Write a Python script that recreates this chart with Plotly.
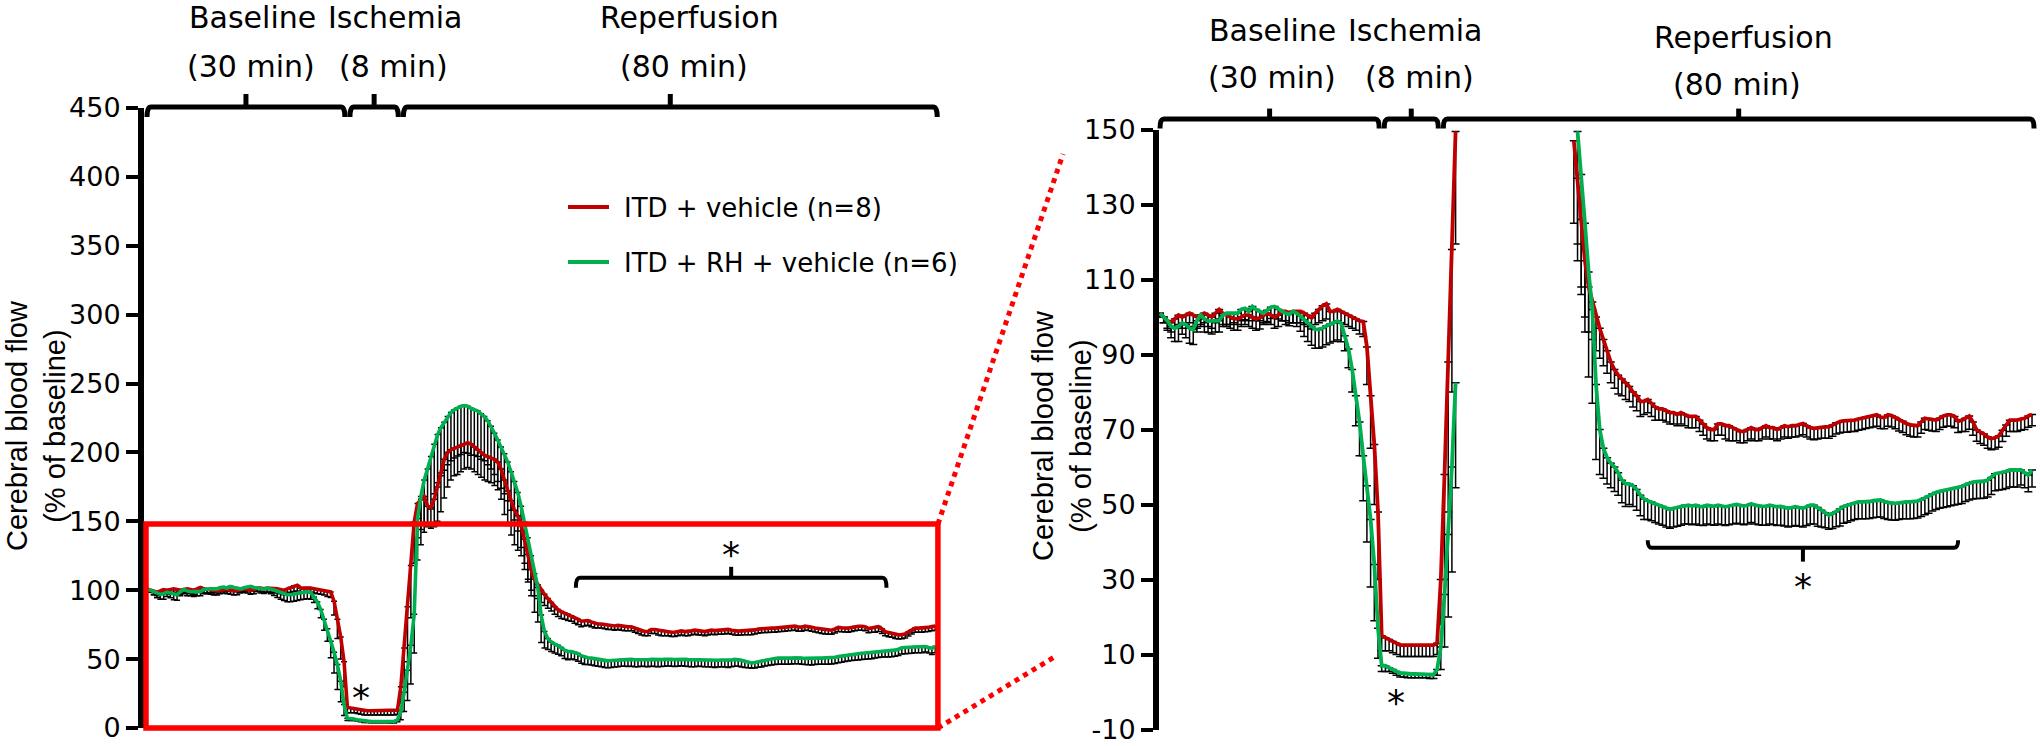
import numpy as np
import plotly.graph_objects as go

# ---------------------------------------------------------------- data
TIME_MIN = np.arange(0, 118.01, 0.5)   # sampling every 30 s, 0..118 min

RED_MEAN = [
    101, 100, 99, 98.5, 99.5, 100.5, 100, 100.5, 101, 100.5,
    100, 100.5, 101, 100.5, 100, 101, 102, 101, 100.5, 100,
    99.5, 99.5, 100, 100.5, 100.5, 100, 99.5, 99.8, 100.5, 101,
    100.5, 100, 100.5, 101.5, 101.5, 101, 101.5, 101.5, 101.5, 101,
    100.5, 99.8, 101, 102, 103, 103.5, 101.5, 101.5, 102, 101.5,
    101, 100.5, 100, 99.5, 99, 98.8, 92, 79, 66, 48,
    15, 14.5, 14, 13.5, 13, 12.5, 12.5, 12.5, 12.5, 12.5,
    12.5, 12.5, 12.5, 12.5, 12.5, 13, 30, 58, 88, 118,
    149.5, 163, 166, 168, 161, 160, 166, 175, 185, 195,
    200, 202, 203, 204, 205, 206, 207, 206, 204, 202,
    200, 198, 197, 196, 195, 193, 188, 180, 172, 165,
    158, 154, 147, 137, 126, 115, 108, 104, 100, 97,
    94, 91, 88, 86, 84.5, 83.5, 82.5, 81.5, 80, 79,
    77.5, 77.5, 78, 77, 76, 75.5, 75.5, 75, 74.5, 74.5,
    74, 74.5, 74, 73.5, 73.5, 73.5, 72.5, 71.5, 70.5, 70,
    70, 71.5, 71.5, 71, 71, 70.5, 70, 69.5, 69.5, 70,
    70.5, 70, 70, 70.5, 71, 70.5, 70.5, 70, 70.5, 71,
    70.7, 71, 71, 71.3, 71.6, 71, 70.5, 70.3, 70.5, 70.7,
    70.7, 70.7, 71.2, 71.8, 72.1, 72.3, 72.3, 72.5, 72.5, 72.8,
    73, 73.3, 73.5, 73.7, 73.9, 73.3, 73.2, 73.9, 73.7, 73.2,
    72.6, 72.2, 71.6, 71.2, 71, 71, 72, 73, 72.8, 72.6,
    72.5, 73, 73.6, 73.9, 73.9, 73.5, 72.2, 72.5, 73, 73.6,
    72, 69.9, 69.3, 68.8, 68, 67.6, 67.8, 68.3, 69.8, 71.2,
    72.5, 72.5, 72.5, 72.8, 73, 73.6, 74,
]
RED_SEM = [
    1, 1.5, 2, 2.5, 2, 2.5, 3, 2.5, 2.5, 3,
    3, 2.5, 2.5, 3, 3, 2.5, 2.5, 3, 3, 3,
    3, 3, 2.5, 2.5, 3, 3, 3, 3, 2.5, 2.5,
    2.5, 3, 3, 2.5, 2.5, 2.5, 3, 3, 3, 3,
    3, 3, 3, 3.5, 4, 4, 3.5, 3, 3, 3,
    3, 3, 3, 3, 3.5, 4, 10, 14, 16, 18,
    4, 3.5, 3, 3, 3, 3, 3, 3, 3, 3,
    3, 3, 3, 3, 3, 3, 12, 28, 40, 38,
    30, 25, 22, 20, 15, 15, 20, 25, 28, 28,
    25, 22, 20, 20, 19, 18, 18, 18, 18, 18,
    18, 18, 18, 18, 19, 20, 22, 25, 25, 25,
    25, 25, 22, 22, 20, 15, 12, 10, 9, 8,
    7, 6, 5.5, 5, 5, 4.5, 4.5, 4, 4, 4,
    4, 3.5, 3.5, 3.5, 3.5, 3, 3, 3, 3, 3,
    3, 3, 3, 3, 3, 3, 3, 3, 3, 3,
    3, 3, 3, 3.5, 4, 3.5, 3, 3, 3, 3,
    3, 3, 3, 3, 3, 3, 3, 3, 3, 3,
    3, 3, 3, 3, 3, 3, 3, 3, 3, 3,
    3, 3, 3, 3, 3, 3, 3, 3, 3, 3,
    3, 3, 3, 3, 3, 3, 3, 3, 3, 3,
    3, 3, 3, 3, 3, 3, 3, 3, 3, 3,
    3, 3, 3, 3, 3, 3, 3, 3, 3.5, 3.5,
    3.5, 3, 3, 3, 3, 3, 3, 3, 3, 3,
    3, 3, 3, 3, 3, 3, 3,
]
GREEN_MEAN = [
    101, 100, 99, 97.5, 97, 97.5, 98.4, 98, 97, 96.7,
    99, 100.5, 99.5, 98.9, 99, 99, 99, 100.5, 101, 101,
    101, 101, 102, 102.3, 101.5, 102.8, 102, 101.5, 101, 101.8,
    102.6, 102.8, 102, 101.5, 101, 100.7, 101.5, 101, 100.2, 99.3,
    98.5, 97.5, 96.7, 96.7, 97, 97.6, 98.1, 98.5, 98.9, 98.4,
    95, 91.5, 86, 79, 72, 63, 55, 46, 34, 17,
    7, 7, 6.5, 6, 5.5, 5, 5, 4.8, 4.8, 4.8,
    4.8, 4.8, 4.8, 4.6, 4.6, 6, 12, 26, 42, 60,
    82.5, 152, 168, 180, 188, 197, 206, 213, 218, 222,
    226, 229, 231, 232.5, 233.5, 234, 233.5, 232, 231, 230,
    228, 226, 223, 219, 214, 209, 204, 199, 193, 186,
    179, 171, 161, 149.5, 138, 125, 112, 102, 82, 70,
    65, 62.5, 61, 60, 58.5, 56.5, 55.5, 55.5, 55, 54,
    52.5, 51.5, 51, 50.7, 50.2, 49.8, 49.5, 49, 48.7, 49,
    49.2, 49.5, 49.8, 49.8, 49.6, 49.8, 49.5, 49.4, 49.8, 49.6,
    49.5, 49.8, 49.6, 49.4, 49.6, 49.8, 50, 49.8, 49.6, 49.8,
    50.2, 49.8, 49.6, 49.5, 49.5, 49.8, 49.6, 49.4, 49.5, 49.3,
    49, 49.2, 49.4, 49.2, 49, 49.4, 49.8, 49.8, 49.2, 48.5,
    47.8, 47.2, 47.6, 48.1, 48.8, 49.5, 49.8, 50.2, 50.5, 50.7,
    50.7, 50.7, 50.8, 51, 51.1, 51.2, 50.8, 50.5, 50.4, 50.3,
    50.5, 50.7, 50.7, 50.7, 50.8, 50.9, 51.3, 51.8, 52.2, 52.8,
    53.2, 53.5, 53.7, 53.9, 54.2, 54.4, 54.6, 54.8, 55.3, 55.7,
    56, 56.1, 56.1, 56.2, 56.5, 57.2, 58.2, 58.4, 58.5, 58.8,
    59.2, 59.2, 59.2, 59.2, 58.5, 57.9, 59.2,
]
GREEN_SEM = [
    1, 1.5, 2.5, 3, 3.5, 4, 3, 3.5, 4, 4,
    3, 3, 3.5, 3, 3.5, 3, 3, 3, 3, 3,
    2.5, 3, 3, 3, 2.5, 3, 3, 2.5, 2.5, 3,
    3, 3, 2.5, 2.5, 3, 3, 3, 3.5, 4, 4.5,
    5, 5, 5, 5, 5, 5, 5, 5, 5, 5,
    4, 5, 6, 8, 9, 12, 15, 18, 15, 8,
    1.5, 1.5, 1, 1, 1, 1, 1, 1, 1, 1,
    1, 1, 1, 1, 1, 1.5, 6, 14, 22, 28,
    28, 30, 35, 38, 40, 38, 36, 35, 35, 35,
    35, 35, 35, 35, 35, 34, 34, 34, 33, 33,
    33, 32, 32, 31, 30, 30, 30, 29, 28, 28,
    28, 28, 30, 30, 30, 29, 28, 25, 20, 12,
    8, 7, 6.5, 6.5, 6, 6, 6, 5.5, 5.5, 5.5,
    5.5, 5.5, 5, 5, 5, 5, 5, 5, 5, 5,
    5, 5, 5, 5, 5, 5, 5, 5, 5, 5,
    5, 5, 5, 5, 5, 5, 5, 5, 5, 5,
    5, 5, 5, 5, 5, 5, 5, 5, 5, 5,
    5, 5, 5, 5, 5, 5, 5, 5, 5, 4.5,
    4, 3.8, 4, 4, 4.5, 4.5, 4.5, 4.5, 4.5, 4.5,
    4.5, 4.5, 4.5, 4.5, 4.5, 4.5, 4.5, 4.5, 4.5, 4.5,
    4.5, 4.5, 4.5, 4.5, 4.5, 4.5, 4.5, 4.5, 4.5, 4.5,
    4.5, 4.5, 4.5, 4.5, 4.5, 4.5, 4.5, 4.5, 4.5, 4.5,
    4.5, 4.5, 4.5, 4.5, 4.5, 4.5, 4.5, 4.5, 4.5, 4.5,
    4.5, 4.5, 4.5, 4, 4, 4.5, 4.5,
]
for arr in (RED_MEAN, RED_SEM, GREEN_MEAN, GREEN_SEM):
    assert len(arr) == len(TIME_MIN), len(arr)

SERIES_NAMES = ["ITD + vehicle (n=8)", "ITD + RH + vehicle (n=6)"]
PHASES = [("Baseline", "(30 min)", 0, 30),
          ("Ischemia", "(8 min)", 30, 38),
          ("Reperfusion", "(80 min)", 38, 118)]
LEFT_YTICKS = [0, 50, 100, 150, 200, 250, 300, 350, 400, 450]
RIGHT_YTICKS = [-10, 10, 30, 50, 70, 90, 110, 130, 150]
ZOOM_TOP = 150                 # right panel shows values up to 150
BOX_TOP = 148
LEFT_SIG_WINDOW = (64.2, 110.7)
RIGHT_SIG_WINDOW = (66, 108)
ISCHEMIA_STAR_T = 32

# ---------------------------------------------------------------- style
RED = "#C00000"
GREEN = "#00B050"
BOXRED = "#FF0000"
FONT = "DejaVu Sans"
TITLE_FONT = "Liberation Sans, Arial, sans-serif"
W, H = 2040, 746

PANELS = {
    "L": dict(t0px=147, ppm=6.68, dom=(144, 945), vpx=(728, 108), yr=(0, 450)),
    "R": dict(t0px=1160, ppm=7.39, dom=(1159, 2038), vpx=(729.5, 129.5), yr=(-10, 150)),
}


def tx(p, t):
    P = PANELS[p]
    return P["t0px"] + P["ppm"] * t


def vy(p, v):
    P = PANELS[p]
    (a, b), (y0, y1) = P["vpx"], P["yr"]
    return a + (b - a) * (v - y0) / (y1 - y0)


def fx(px):
    return px / W


def fy(py):
    return 1 - py / H


fig = go.Figure()


def add_panel(xa, ya, clip_top, lw, capw):
    series = [(RED_MEAN, RED_SEM, RED), (GREEN_MEAN, GREEN_SEM, GREEN)]
    prepared = []
    for mean, sem, col in series:
        y = [m if (clip_top is None or m <= clip_top) else None for m in mean]
        e = [s if yy is not None else 0 for s, yy in zip(sem, y)]
        prepared.append((y, e, col))
    for y, e, col in prepared:
        fig.add_trace(go.Scatter(
            x=TIME_MIN, y=y, mode="markers",
            marker=dict(size=1, color="rgba(0,0,0,0)"),
            error_y=dict(type="data", symmetric=False, array=[0] * len(y),
                         arrayminus=e, color="black", thickness=1.5, width=capw),
            xaxis=xa, yaxis=ya, showlegend=False, hoverinfo="skip"))
    for (y, e, col), name in zip(prepared, SERIES_NAMES):
        fig.add_trace(go.Scatter(
            x=TIME_MIN, y=y, mode="lines", name=name,
            line=dict(color=col, width=lw),
            xaxis=xa, yaxis=ya, showlegend=False))


add_panel("x", "y", None, 3.6, 3)
add_panel("x2", "y2", ZOOM_TOP, 3.8, 4)


def yaxis_cfg(p, ticks, anchor):
    P = PANELS[p]
    return dict(
        domain=[fy(P["vpx"][0]), fy(P["vpx"][1])], range=list(P["yr"]),
        anchor=anchor, showgrid=False, zeroline=False,
        showline=True, linewidth=6, linecolor="black",
        ticks="outside", ticklen=12, tickwidth=4, tickcolor="black",
        tickvals=ticks, ticktext=[str(v) for v in ticks],
        tickfont=dict(family=FONT, size=27, color="black"),
        fixedrange=True)


def xaxis_cfg(p, anchor):
    P = PANELS[p]
    d0, d1 = P["dom"]
    return dict(domain=[fx(d0), fx(d1)],
                range=[(d0 - P["t0px"]) / P["ppm"], (d1 - P["t0px"]) / P["ppm"]],
                anchor=anchor, visible=False, fixedrange=True)


shapes = []
annotations = []


def seg(x0, y0, x1, y1, color="black", width=5, dash=None):
    line = dict(color=color, width=width)
    if dash:
        line["dash"] = dash
    shapes.append(dict(type="line", xref="paper", yref="paper",
                       x0=fx(x0), y0=fy(y0), x1=fx(x1), y1=fy(y1), line=line))


def path(d, width=5, color="black"):
    shapes.append(dict(type="path", xref="paper", yref="paper", path=d,
                       line=dict(color=color, width=width)))


def brace(x0, x1, yl, ye, yn, width=5, r=4):
    d = (f"M {fx(x0)},{fy(ye)} Q {fx(x0)},{fy(yl)} {fx(x0 + r)},{fy(yl)} "
         f"L {fx(x1 - r)},{fy(yl)} Q {fx(x1)},{fy(yl)} {fx(x1)},{fy(ye)}")
    path(d, width)
    xc = (x0 + x1) / 2
    path(f"M {fx(xc)},{fy(yl)} L {fx(xc)},{fy(yn)}", width)


def text(x, y, s, size=30, anchor="center", family=FONT, angle=0):
    annotations.append(dict(x=fx(x), y=fy(y), xref="paper", yref="paper", text=s,
                            showarrow=False, xanchor=anchor, yanchor="middle",
                            textangle=angle,
                            font=dict(family=family, size=size, color="black")))


# phase braces + headers
HEADER_POS = {
    "L": dict(brace=(107, 117, 94), title_y=17.5, sub_y=66,
              title_x=[252, 395, 689], sub_x=[251, 393, 684], dy=[0, 0, 0]),
    "R": dict(brace=(119, 128.6, 108.6), title_y=30, sub_y=78,
              title_x=[1272, 1415, 1743], sub_x=[1272, 1419, 1737], dy=[0, 0, 7]),
}
for p in ("L", "R"):
    hp = HEADER_POS[p]
    yl, ye, yn = hp["brace"]
    for i, (name, dur, a, b) in enumerate(PHASES):
        x0 = tx(p, a) + (2.5 if a > 0 else 0)
        x1 = tx(p, b) + (-2.5 if b < 118 else 2)
        brace(x0, x1, yl, ye, yn)
        text(hp["title_x"][i], hp["title_y"] + hp["dy"][i], name, 30)
        text(hp["sub_x"][i], hp["sub_y"] + hp["dy"][i], dur, 30)

# zoom box + dotted connectors
bx0, bx1 = tx("L", -0.15), tx("L", 118.4)
by0, by1 = vy("L", 0), vy("L", BOX_TOP)
shapes.append(dict(type="rect", xref="paper", yref="paper",
                   x0=fx(bx0), x1=fx(bx1), y0=fy(by0), y1=fy(by1),
                   line=dict(color=BOXRED, width=5.5)))
seg(bx1, by1, 1063, 154, BOXRED, 5, "dot")
seg(bx1, by0, 1056, 656, BOXRED, 5, "dot")

# significance brackets
sl0, sl1 = tx("L", LEFT_SIG_WINDOW[0]), tx("L", LEFT_SIG_WINDOW[1])
syl = vy("L", 109)
brace(sl0, sl1, syl, syl + 10, syl - 11, width=4)
text((sl0 + sl1) / 2, syl - 30 + 7, "*", 36)
text(tx("L", ISCHEMIA_STAR_T), vy("L", 27.5) + 7, "*", 36)

sr0, sr1 = tx("R", RIGHT_SIG_WINDOW[0]), tx("R", RIGHT_SIG_WINDOW[1])
syr = vy("R", 38.5)
brace(sr0, sr1, syr, syr - 7.5, syr + 14, width=4)
text((sr0 + sr1) / 2, syr + 32 + 7, "*", 36)
text(tx("R", ISCHEMIA_STAR_T), vy("R", -1) + 7, "*", 36)

# legend (left panel)
for (name, col, yy) in zip(SERIES_NAMES, [RED, GREEN], [207, 262]):
    seg(568, yy, 609, yy, col, 4)
    text(622, yy + 1, name, 26, anchor="left")

# y-axis titles
text(36, 426, "Cerebral blood flow<br>(% of baseline)", 29,
     family=TITLE_FONT, angle=-90)
text(1062, 436, "Cerebral blood flow<br>(% of baseline)", 29,
     family=TITLE_FONT, angle=-90)

fig.update_layout(
    width=W, height=H,
    margin=dict(l=0, r=0, t=0, b=0, pad=0, autoexpand=False),
    paper_bgcolor="white", plot_bgcolor="white",
    xaxis=xaxis_cfg("L", "y"), yaxis=yaxis_cfg("L", LEFT_YTICKS, "x"),
    xaxis2=xaxis_cfg("R", "y2"), yaxis2=yaxis_cfg("R", RIGHT_YTICKS, "x2"),
    shapes=shapes, annotations=annotations, showlegend=False,
)

# remove the browser's default 8px page margin so the figure fills the window
fig.write_html("out.html",
               config={"displayModeBar": False},
               post_script="document.body.style.margin='0';"
                           "document.body.style.overflow='hidden';")
